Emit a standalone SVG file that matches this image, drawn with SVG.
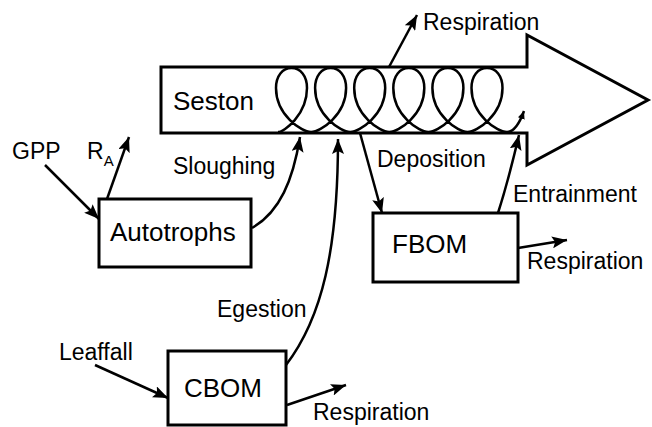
<svg xmlns="http://www.w3.org/2000/svg" width="652" height="427" viewBox="0 0 652 427">
<style>
.box{fill:#fff;stroke:#000;stroke-width:3}
.lbl{font-family:"Liberation Sans",Arial,sans-serif;font-size:23px;fill:#000}
.node{font-family:"Liberation Sans",Arial,sans-serif;font-size:26px;fill:#000}
.con{fill:none;stroke:#000;stroke-width:2.5}
.coil{fill:none;stroke:#000;stroke-width:2.5}
</style>
<defs>
<marker id="ah" markerUnits="userSpaceOnUse" markerWidth="16" markerHeight="12" refX="15" refY="6" orient="auto">
<path d="M0,0 L15,6 L0,12 L3,6 Z" fill="#000"/>
</marker>
<marker id="ahs" markerUnits="userSpaceOnUse" markerWidth="9" markerHeight="7" refX="8" refY="3.5" orient="auto">
<path d="M0,0 L8,3.5 L0,7 Z" fill="#000"/>
</marker>
</defs>
<rect width="652" height="427" fill="#fff"/>
<g id="seston">
<polygon class="box" points="161,67 527,67 527,35 648,100 527,165 527,133 161,133"/>
<text class="node" x="173" y="110">Seston</text>
<path class="coil" d="M278,132 C284,132 307,115 307,88 C307,76 300.5,68 291.5,68 C282.5,68 276,76 276,88 C276,115 301.5,132 311.05,132
C320.6,132 346.1,115 346.1,88 C346.1,76 339.6,68 330.6,68 C321.6,68 315.1,76 315.1,88 C315.1,115 340.6,132 350.15,132
C359.7,132 385.2,115 385.2,88 C385.2,76 378.7,68 369.7,68 C360.7,68 354.2,76 354.2,88 C354.2,115 379.7,132 389.25,132
C398.8,132 424.3,115 424.3,88 C424.3,76 417.8,68 408.8,68 C399.8,68 393.3,76 393.3,88 C393.3,115 418.8,132 428.35,132
C437.9,132 463.4,115 463.4,88 C463.4,76 456.9,68 447.9,68 C438.9,68 432.4,76 432.4,88 C432.4,115 457.9,132 467.45,132
C477,132 502.5,115 502.5,88 C502.5,76 496,68 487,68 C478,68 471.5,76 471.5,88 C471.5,115 497,132 507,132
C514,132 520,122 524,111" marker-end="url(#ahs)"/>
</g>
<g id="autotrophs">
<rect class="box" x="99" y="199" width="152" height="68"/>
<text class="node" x="110" y="241">Autotrophs</text>
</g>
<g id="fbom">
<rect class="box" x="373" y="213" width="145" height="69"/>
<text class="node" x="392" y="253">FBOM</text>
</g>
<g id="cbom">
<rect class="box" x="168" y="351" width="118" height="74"/>
<text class="node" x="184" y="397">CBOM</text>
</g>
<g id="connectors">
<path class="con" d="M45,165 L99,219" marker-end="url(#ah)"/>
<path class="con" d="M107,199 L129,137" marker-end="url(#ah)"/>
<path class="con" d="M252,228 C280,212 293,180 300,137" marker-end="url(#ah)"/>
<path class="con" d="M286,365 C322,318 338,250 338,139" marker-end="url(#ah)"/>
<path class="con" d="M360,133 L382,213" marker-end="url(#ah)"/>
<path class="con" d="M498,213 C506,188 512,165 519,135" marker-end="url(#ah)"/>
<path class="con" d="M389,67 L417,15" marker-end="url(#ah)"/>
<path class="con" d="M518,248 L567,240" marker-end="url(#ah)"/>
<path class="con" d="M95,365 L168,398" marker-end="url(#ah)"/>
<path class="con" d="M287,405 L346,385" marker-end="url(#ah)"/>
</g>
<g id="labels">
<text class="lbl" x="423" y="30">Respiration</text>
<text class="lbl" x="12" y="159">GPP</text>
<text class="lbl" x="87" y="159">R<tspan font-size="15" dy="7">A</tspan></text>
<text class="lbl" x="173" y="174">Sloughing</text>
<text class="lbl" x="377" y="167">Deposition</text>
<text class="lbl" x="513" y="202">Entrainment</text>
<text class="lbl" x="527" y="269">Respiration</text>
<text class="lbl" x="217" y="317">Egestion</text>
<text class="lbl" x="59" y="360">Leaffall</text>
<text class="lbl" x="313" y="420">Respiration</text>
</g>
</svg>
